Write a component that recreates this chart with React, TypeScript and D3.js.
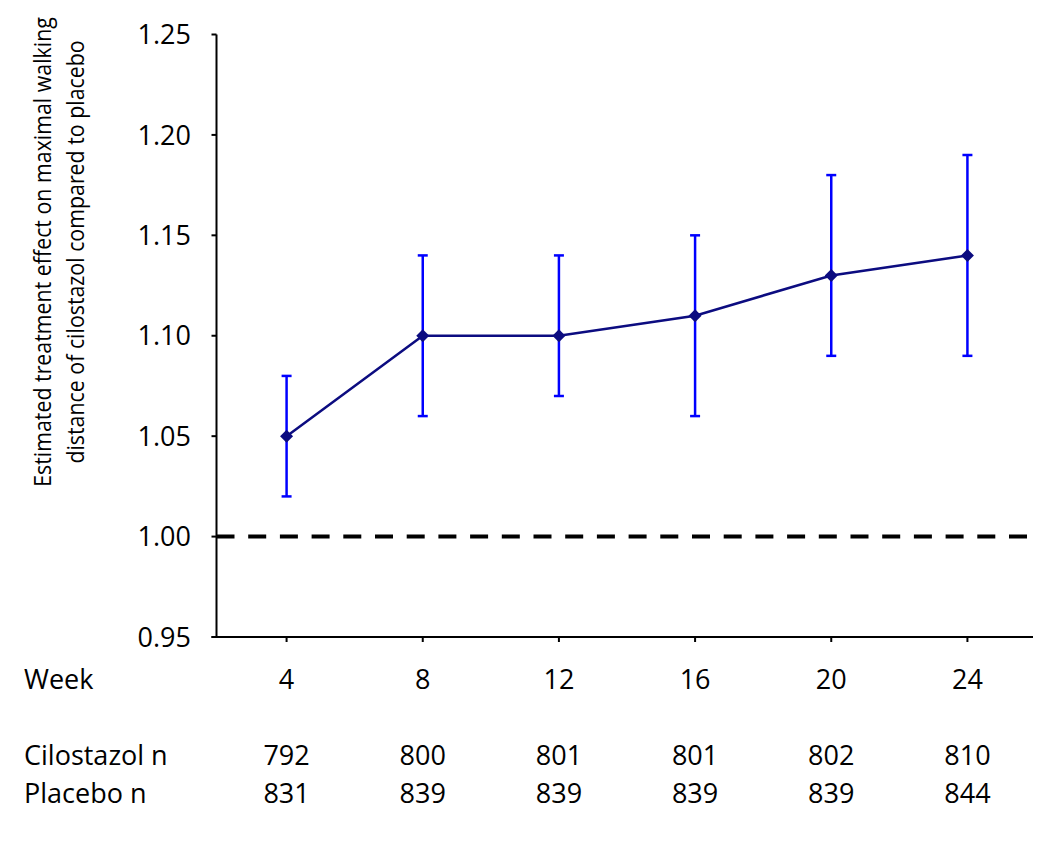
import React from "react";
import * as d3 from "d3";

const weeks = ["4", "8", "12", "16", "20", "24"];
const estimate = [1.05, 1.10, 1.10, 1.11, 1.13, 1.14];
const lower = [1.02, 1.06, 1.07, 1.06, 1.09, 1.09];
const upper = [1.08, 1.14, 1.14, 1.15, 1.18, 1.19];
const cilostazolN = [792, 800, 801, 801, 802, 810];
const placeboN = [831, 839, 839, 839, 839, 844];
const yTicks = [0.95, 1.0, 1.05, 1.1, 1.15, 1.2, 1.25];
const referenceValue = 1.0;

const FONT = "'Open Sans', 'Liberation Sans', sans-serif";

export default function App() {
  const W = 1050, H = 843;
  const axisX = 216.5;
  const axisY = 637;
  const x = d3.scalePoint<string>().domain(weeks).range([218.5, 1035.5]).padding(0.5);
  const y = d3.scaleLinear().domain([0.95, 1.25]).range([637, 34.5]);
  const line = d3.line<number>().x((_, i) => x(weeks[i])!).y((d) => y(d));
  const fs = 27;

  return (
    <svg width={W} height={H} style={{ position: "absolute", left: 0, top: 0, background: "#fff" }} fontFamily={FONT}>
      <rect width={W} height={H} fill="#fff" />
      {/* y axis */}
      <line x1={axisX} x2={axisX} y1={y(1.25)} y2={axisY} stroke="#000" strokeWidth={2} />
      {yTicks.map((t) => (
        <g key={t}>
          <line x1={axisX - 5} x2={axisX} y1={y(t)} y2={y(t)} stroke="#000" strokeWidth={2} />
          <text x={191} y={y(t)} dy="0.36em" textAnchor="end" fontSize={fs} fill="#000">
            {t.toFixed(2)}
          </text>
        </g>
      ))}
      {/* x axis */}
      <line x1={axisX - 5} x2={1033} y1={axisY} y2={axisY} stroke="#000" strokeWidth={2} />
      {weeks.map((w) => (
        <line key={w} x1={x(w)} x2={x(w)} y1={axisY} y2={axisY + 5} stroke="#000" strokeWidth={2} />
      ))}
      {/* reference dashed line */}
      <line x1={axisX} x2={1033} y1={y(referenceValue)} y2={y(referenceValue)} stroke="#000" strokeWidth={4} strokeDasharray="18,13.7" />
      {/* y label */}
      <g transform={`translate(51, 252) rotate(-90) scale(0.89, 1)`}>
        <text x={0} y={0} textAnchor="middle" fontSize={24} fill="#000">Estimated treatment effect on maximal walking</text>
        <text x={0} y={33} textAnchor="middle" fontSize={24} fill="#000">distance of cilostazol compared to placebo</text>
      </g>
      {/* error bars */}
      {weeks.map((w, i) => (
        <g key={w} stroke="#0000ff" strokeWidth={2.5}>
          <line x1={x(w)} x2={x(w)} y1={y(lower[i])} y2={y(upper[i])} />
          <line x1={x(w)! - 5} x2={x(w)! + 5} y1={y(lower[i])} y2={y(lower[i])} />
          <line x1={x(w)! - 5} x2={x(w)! + 5} y1={y(upper[i])} y2={y(upper[i])} />
        </g>
      ))}
      {/* line */}
      <path d={line(estimate) || ""} fill="none" stroke="#0c0c80" strokeWidth={2.5} />
      {estimate.map((v, i) => {
        const cx = x(weeks[i])!, cy = y(v), r = 6.5;
        return <path key={i} d={`M${cx},${cy - r}L${cx + r},${cy}L${cx},${cy + r}L${cx - r},${cy}Z`} fill="#0c0c80" />;
      })}
      {/* table */}
      <text x={24} y={689} fontSize={fs} fill="#000">Week</text>
      <text x={24} y={765} fontSize={fs} fill="#000">Cilostazol n</text>
      <text x={24} y={803} fontSize={fs} fill="#000">Placebo n</text>
      {weeks.map((w, i) => (
        <g key={w}>
          <text x={x(w)} y={689} textAnchor="middle" fontSize={fs} fill="#000">{w}</text>
          <text x={x(w)} y={765} textAnchor="middle" fontSize={fs} fill="#000">{cilostazolN[i]}</text>
          <text x={x(w)} y={803} textAnchor="middle" fontSize={fs} fill="#000">{placeboN[i]}</text>
        </g>
      ))}
    </svg>
  );
}
